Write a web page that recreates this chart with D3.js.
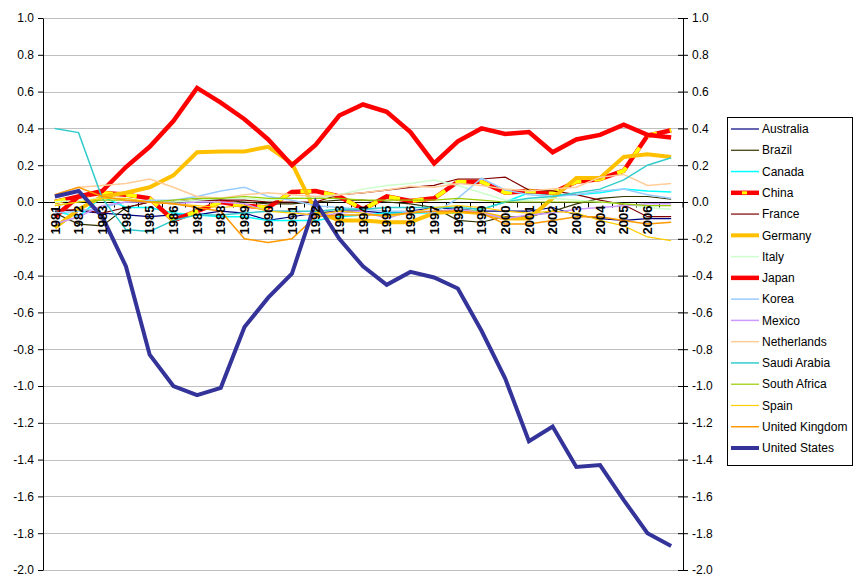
<!DOCTYPE html>
<meta charset="utf-8">
<script src="https://cdn.jsdelivr.net/npm/d3@7"></script>
<style>
body { margin: 0; background: #fff; }
text { font-family: "Liberation Sans", Arial, sans-serif; }
</style>
<body>
<script>

// ---- data ----
var years = ["1981","1982","1983","1984","1985","1986","1987","1988","1989","1990",
             "1991","1992","1993","1994","1995","1996","1997","1998","1999","2000",
             "2001","2002","2003","2004","2005","2006","2007"];
var yearLabels = ["1981","1982","1983","1984","1985","1986","1987","1988","1989","1990",
             "1991","1992","1993","1994","1995","1996","1997","1998","1999","2000",
             "2001","2002","2003","2004","2005","2006",""];
var yTicks = [-2.0,-1.8,-1.6,-1.4,-1.2,-1.0,-0.8,-0.6,-0.4,-0.2,0.0,0.2,0.4,0.6,0.8,1.0];

var countries = ["Australia","Brazil","Canada","China","France","Germany","Italy","Japan",
                 "Korea","Mexico","Netherlands","Saudi Arabia","South Africa","Spain",
                 "United Kingdom","United States"];

var australia = [-0.04,-0.05,-0.06,-0.07,-0.08,-0.07,-0.07,-0.05,-0.06,-0.10,-0.08,-0.06,-0.05,-0.05,-0.06,-0.05,-0.03,-0.04,-0.05,-0.05,-0.05,-0.03,-0.07,-0.09,-0.10,-0.09,-0.09];
var brazil = [-0.06,-0.12,-0.13,-0.03,0.00,0.00,0.01,0.01,0.00,-0.01,-0.01,0.00,0.01,0.01,0.00,-0.01,-0.03,-0.10,-0.11,-0.08,-0.08,-0.05,-0.01,0.02,0.03,0.03,0.015];
var canada = [-0.05,-0.08,0.03,-0.03,-0.03,-0.06,-0.07,-0.08,-0.08,-0.10,-0.10,-0.10,-0.08,-0.07,-0.06,-0.06,-0.06,-0.06,-0.04,0.00,0.05,0.04,0.04,0.05,0.07,0.06,0.055];
var china = [0.00,0.03,0.05,0.04,0.02,-0.10,-0.05,0.00,-0.02,-0.03,0.055,0.06,0.03,-0.04,0.03,0.005,0.02,0.11,0.11,0.05,0.06,0.05,0.11,0.125,0.17,0.36,0.39];
var france = [-0.05,-0.04,-0.06,-0.03,0.00,0.00,0.01,0.01,0.01,0.00,0.00,0.00,0.04,0.05,0.065,0.08,0.09,0.125,0.125,0.135,0.065,0.06,0.04,0.01,-0.015,-0.08,-0.08];
var germany = [-0.14,-0.04,0.03,0.05,0.08,0.145,0.27,0.275,0.275,0.30,0.21,-0.05,-0.10,-0.10,-0.11,-0.11,-0.06,-0.05,-0.06,-0.09,-0.09,0.02,0.13,0.13,0.245,0.26,0.245];
var italy = [0.00,0.01,0.02,0.02,0.00,0.00,0.01,0.02,0.02,0.01,0.02,0.02,0.04,0.07,0.09,0.10,0.12,0.09,0.05,0.01,0.01,0.02,0.01,0.00,-0.01,-0.03,-0.04];
var japan = [-0.08,0.03,0.06,0.19,0.30,0.44,0.62,0.54,0.45,0.34,0.20,0.31,0.47,0.53,0.49,0.38,0.21,0.33,0.40,0.37,0.38,0.27,0.34,0.365,0.42,0.365,0.35];
var korea = [-0.06,-0.05,-0.03,0.00,0.01,0.01,0.03,0.06,0.08,0.03,0.01,-0.02,-0.03,-0.04,-0.05,-0.05,-0.06,0.02,0.13,0.065,0.04,0.03,0.04,0.06,0.07,0.04,0.02];
var mexico = [-0.12,-0.08,-0.02,0.00,0.00,-0.01,0.00,0.00,-0.01,-0.05,-0.05,-0.08,-0.06,-0.05,-0.09,-0.05,-0.05,-0.04,-0.06,-0.09,-0.07,-0.06,-0.04,-0.03,-0.02,-0.01,-0.01];
var netherlands = [0.04,0.08,0.09,0.10,0.125,0.08,0.03,0.02,0.04,0.05,0.04,0.03,0.04,0.05,0.065,0.085,0.08,0.10,0.09,0.07,0.06,0.07,0.08,0.135,0.15,0.09,0.10];
var saudiArabia = [0.40,0.377,0.02,-0.15,-0.16,-0.10,-0.07,-0.07,-0.06,-0.05,-0.05,-0.05,-0.04,-0.04,-0.03,-0.03,-0.03,-0.03,-0.04,0.00,0.02,0.03,0.05,0.07,0.12,0.20,0.24];
var southAfrica = [-0.02,0.00,0.01,0.01,0.00,0.01,0.02,0.02,0.03,0.02,0.02,0.02,0.02,0.01,0.01,0.01,0.01,0.02,0.01,0.00,0.00,0.00,0.00,0.00,-0.01,-0.02,-0.02];
var spain = [-0.02,0.00,0.02,0.02,0.00,-0.01,-0.02,-0.03,-0.02,-0.05,-0.06,-0.07,-0.05,-0.06,-0.08,-0.06,-0.03,-0.02,-0.03,-0.05,-0.06,-0.05,-0.06,-0.10,-0.13,-0.19,-0.21];
var unitedKingdom = [0.04,0.08,0.03,0.01,0.00,-0.01,-0.03,-0.05,-0.20,-0.22,-0.20,-0.08,-0.07,-0.07,-0.07,-0.06,-0.05,-0.05,-0.06,-0.12,-0.12,-0.10,-0.08,-0.08,-0.10,-0.12,-0.11];
var unitedStates = [0.03,0.06,-0.08,-0.35,-0.83,-1.00,-1.05,-1.01,-0.68,-0.52,-0.39,0.00,-0.20,-0.35,-0.45,-0.38,-0.41,-0.47,-0.70,-0.96,-1.30,-1.22,-1.44,-1.43,-1.62,-1.80,-1.87];

var seriesValues = [australia, brazil, canada, china, france, germany, italy, japan,
                    korea, mexico, netherlands, saudiArabia, southAfrica, spain,
                    unitedKingdom, unitedStates];

// ---- styles ----
var colors = ["#000080","#333300","#00FFFF","#FF0000","#800000","#FFC000","#CCFFCC","#FF0000",
              "#99CCFF","#CC99FF","#FFCC99","#33CCCC","#99CC00","#FFCC00","#FF9900","#333399"];
var widths = [1.2,1.2,1.5,4.5,1.2,4,1.5,4.5,1.5,1.5,1.5,1.5,1.2,1.2,1.5,4];

var width = 854, height = 575;
var plotLeft = 43, plotRight = 683, plotTop = 18, plotBottom = 570;

var svg = d3.select("body").append("svg")
    .attr("width", width)
    .attr("height", height);

var x = d3.scaleBand().domain(years).range([plotLeft, plotRight]);
var y = d3.scaleLinear().domain([-2, 1]).range([plotBottom, plotTop]);

function fmt(v) {
  var r = Math.round(v * 10) / 10;
  if (r === 0) return "0.0";
  return r.toFixed(1);
}

// gridlines
svg.append("g")
  .selectAll("line")
  .data(yTicks.filter(function(v) { return v !== 0; }))
  .join("line")
    .attr("x1", plotLeft).attr("x2", plotRight)
    .attr("y1", function(d) { return Math.round(y(d)) + 0.5; })
    .attr("y2", function(d) { return Math.round(y(d)) + 0.5; })
    .attr("stroke", "#c0c0c0");

// left axis
var gl = svg.append("g")
  .attr("transform", "translate(" + plotLeft + ",0)")
  .call(d3.axisLeft(y).tickValues(yTicks).tickFormat(fmt).tickSize(5).tickSizeOuter(0));
gl.selectAll("text").attr("font-size", 12).attr("fill", "#000").attr("font-family", "Liberation Sans, Arial, sans-serif").attr("x", -9);
gl.select(".domain").attr("stroke", "#000");

// right axis
var gr = svg.append("g")
  .attr("transform", "translate(" + plotRight + ",0)")
  .call(d3.axisRight(y).tickValues(yTicks).tickFormat(fmt).tickSize(5).tickSizeOuter(0));
gr.selectAll(".tick line").attr("x1", -5).attr("x2", 5);
gr.selectAll("text").attr("font-size", 12).attr("fill", "#000").attr("font-family", "Liberation Sans, Arial, sans-serif").attr("x", 9);
gr.select(".domain").attr("stroke", "#000");

// x axis at zero
var y0 = Math.round(y(0)) + 0.5;
svg.append("line")
  .attr("x1", plotLeft).attr("x2", plotRight)
  .attr("y1", y0).attr("y2", y0)
  .attr("stroke", "#000");

svg.append("g")
  .selectAll("line")
  .data(years.concat(["end"]))
  .join("line")
    .attr("x1", function(d) { return d === "end" ? plotRight : Math.round(x(d)) + 0.5; })
    .attr("x2", function(d) { return d === "end" ? plotRight : Math.round(x(d)) + 0.5; })
    .attr("y1", y0).attr("y2", y0 + 5)
    .attr("stroke", "#000");

// lines
var line = d3.line()
  .x(function(d, i) { return x(years[i]) + x.bandwidth() / 2; })
  .y(function(d) { return y(d); });

var plot = svg.append("g");
seriesValues.forEach(function(vals, k) {
  plot.append("path")
    .datum(vals)
    .attr("d", line)
    .attr("fill", "none")
    .attr("stroke", colors[k])
    .attr("stroke-width", widths[k])
    .attr("stroke-linejoin", "miter");
  if (countries[k] === "China") {
    plot.append("path")
      .datum(vals)
      .attr("d", line)
      .attr("fill", "none")
      .attr("stroke", "#FFFF00")
      .attr("stroke-width", widths[k] - 0.5)
      .attr("stroke-dasharray", "11,13");
  }
});

// year labels on top of the lines
svg.append("g")
  .selectAll("text")
  .data(years)
  .join("text")
    .attr("transform", function(d) {
      return "translate(" + (x(d) + x.bandwidth() / 2) + "," + (y0 + 3) + ") rotate(-90)";
    })
    .attr("text-anchor", "end")
    .attr("dy", "0.36em")
    .attr("font-size", 13)
    .attr("font-weight", "bold")
    .text(function(d, i) { return yearLabels[i]; });

// legend
var legend = svg.append("g").attr("transform", "translate(727,117)");
legend.append("rect")
  .attr("x", 0.5).attr("y", 0.5)
  .attr("width", 125).attr("height", 348)
  .attr("fill", "#fff")
  .attr("stroke", "#000");

var ly = d3.scalePoint().domain(countries).range([12, 331]);
countries.forEach(function(c, k) {
  var g = legend.append("g").attr("transform", "translate(0," + ly(c) + ")");
  g.append("line")
    .attr("x1", 4).attr("x2", 32)
    .attr("stroke", colors[k])
    .attr("stroke-width", widths[k]);
  if (c === "China") {
    g.append("line")
      .attr("x1", 15).attr("x2", 20)
      .attr("stroke", "#FFFF00")
      .attr("stroke-width", widths[k] - 1.5);
  }
  g.append("text")
    .attr("x", 35)
    .attr("dy", "0.35em")
    .attr("font-size", 12)
    .text(c);
});

</script>
</body>
